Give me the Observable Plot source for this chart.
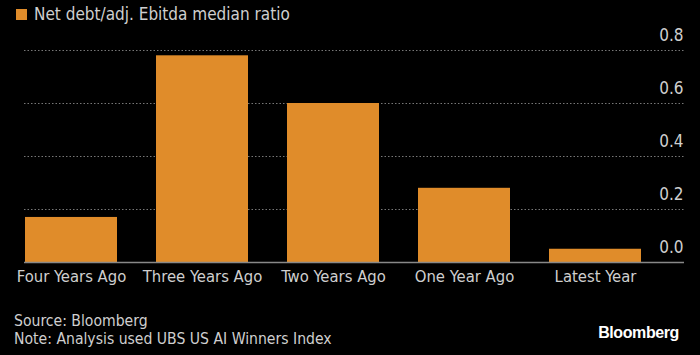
<!DOCTYPE html>
<html>
<head>
<meta charset="utf-8">
<script src="https://cdn.jsdelivr.net/npm/d3@7"></script>
<script src="https://cdn.jsdelivr.net/npm/@observablehq/plot@0.6"></script>
<style>
  html, body { margin: 0; padding: 0; background: #000; }
  body { width: 700px; height: 355px; position: relative; overflow: hidden;
         font-family: "Liberation Sans Narrow", "DejaVu Sans Condensed", "Roboto Condensed", sans-serif; color: #cfcfcf; }
  #legend { position: absolute; left: 16px; top: 4px; font-size: 17px; display: flex; align-items: center; }
  #legend .sw { width: 11px; height: 11px; background: #E08C2A; margin-right: 7px; }
  #chart { position: absolute; left: 0; top: 0; }
  #foot { position: absolute; left: 14px; top: 312px; font-size: 15.6px; line-height: 18px; }
  #logo { position: absolute; right: 21px; top: 324px; font-family: "Liberation Sans", Arial, sans-serif; font-weight: bold; font-size: 16px; color: #fff; letter-spacing: -0.4px; }
</style>
</head>
<body>
<div id="legend"><div class="sw"></div><span>Net debt/adj. Ebitda median ratio</span></div>
<div id="chart"></div>
<div id="foot">Source: Bloomberg<br>Note: Analysis used UBS US AI Winners Index</div>
<div id="logo">Bloomberg</div>
<script>
const categories = ["Four Years Ago", "Three Years Ago", "Two Years Ago", "One Year Ago", "Latest Year"];
const ratios = [0.17, 0.78, 0.60, 0.28, 0.05];
const yTicks = [0, 0.2, 0.4, 0.6, 0.8];
const yTickLabels = ["0.0", "0.2", "0.4", "0.6", "0.8"];

const data = categories.map((c, i) => ({category: c, value: ratios[i]}));
const ticks = yTicks.map((t, i) => ({t, label: yTickLabels[i]}));

const font = '"Liberation Sans Narrow", "DejaVu Sans Condensed", sans-serif';
const chart = Plot.plot({
  width: 700,
  height: 290,
  marginTop: 50,
  marginBottom: 28,
  marginLeft: 24,
  marginRight: 16,
  style: {background: "transparent", color: "#cfcfcf", fontFamily: font, fontSize: "16.5px"},
  x: {domain: categories, range: [24, 641], paddingInner: 0.3, paddingOuter: 0, label: null},
  y: {domain: [0, 0.8], label: null, axis: null},
  marks: [
    Plot.ruleY(yTicks.filter(t => t > 0), {stroke: "#777", strokeDasharray: "1.5,2", strokeWidth: 1}),
    Plot.barY(data, {x: "category", y: "value", fill: "#E08C2A"}),
    Plot.ruleY([0], {stroke: "#888", strokeWidth: 1.5}),
    Plot.text(ticks, {y: "t", text: "label", frameAnchor: "right", textAnchor: "end", dx: -1, dy: -15, fill: "#cfcfcf", fontSize: 17}),
    Plot.axisX({tickSize: 0, tickPadding: 8, fontSize: 16.5, fill: "#cfcfcf"})
  ]
});
document.getElementById("chart").append(chart);
</script>
</body>
</html>
